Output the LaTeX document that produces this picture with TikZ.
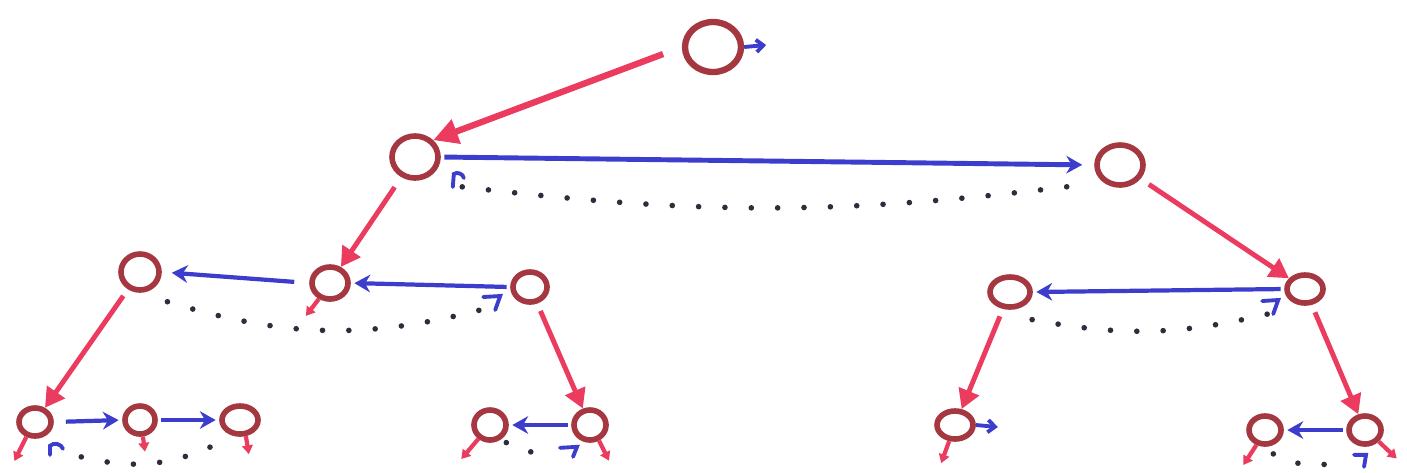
\documentclass[tikz,border=0pt]{standalone}
\usepackage{tikz}
\usetikzlibrary{shapes,arrows.meta,positioning,calc}
\usepackage{xcolor}
\definecolor{nodebrown}{RGB}{165,55,65}
\definecolor{ptrred}{RGB}{235,60,95}
\definecolor{ptrblue}{RGB}{60,60,205}
\definecolor{dotgray}{RGB}{45,45,60}

\begin{document}
\begin{tikzpicture}[
    node distance=1cm, on grid,
    heap/.style={ellipse, draw=nodebrown, line width=1.6pt, inner sep=0pt, minimum width=0.36cm, minimum height=0.32cm},
    rootheap/.style={heap, line width=1.8pt, minimum width=0.56cm, minimum height=0.5cm},
    topheap/.style={heap, minimum width=0.46cm, minimum height=0.42cm},
    leafheap/.style={heap, minimum width=0.32cm, minimum height=0.28cm},
    parentptr/.style={draw=ptrred, line width=1.4pt, -{Triangle[length=5.5pt,width=6pt]}, shorten <=2pt},
    siblingptr/.style={draw=ptrblue, line width=1.2pt, -{Stealth[length=4.5pt,width=5pt]}, shorten <=1pt, shorten >=1pt},
    backptr/.style={draw=dotgray, line width=1.6pt, line cap=round, dash pattern=on 0pt off 7.5pt},
    hookptr/.style={draw=ptrblue, line width=1.1pt, line cap=round},
    nilred/.style={draw=ptrred, line width=1.2pt, -{Triangle[length=2.5pt,width=3pt]}},
    nilblue/.style={draw=ptrblue, line width=1.1pt, -{Straight Barb[length=2pt,width=3.5pt]}}
]
    \useasboundingbox (0,0) rectangle (14.07,4.72);

    % Root
    \node[rootheap] (root) at (7.13,4.25) {};

    % Level 1
    \node[topheap, below left=1.1cm and 2.98cm of root] (lft) {};
    \node[topheap, minimum height=0.4cm, below right=1.18cm and 4.07cm of root] (rgt) {};

    % Level 2 - left
    \node[heap, below left=1.26cm and 0.85cm of lft] (lftb) {};
    \node[heap, minimum width=0.38cm, minimum height=0.36cm, left=1.9cm of lftb, yshift=0.11cm] (lfta) {};
    \node[heap, minimum width=0.34cm, minimum height=0.3cm, right=2cm of lftb, yshift=-0.04cm] (lftc) {};

    % Level 2 - right
    \node[heap, minimum height=0.28cm, below right=1.24cm and 1.85cm of rgt] (rgtb) {};
    \node[heap, minimum width=0.4cm, minimum height=0.3cm, left=2.95cm of rgtb, yshift=-0.03cm] (rgta) {};

    % Level 3
    \node[leafheap, below left=1.5cm and 1.05cm of lfta] (lftaa) {};
    \node[leafheap, minimum width=0.3cm, right=1.05cm of lftaa, yshift=0.02cm] (lftab) {};
    \node[leafheap, minimum width=0.36cm, right=1cm of lftab] (lftac) {};
    \node[leafheap, minimum height=0.3cm, below right=1.38cm and 0.6cm of lftc] (lftcb) {};
    \node[leafheap, minimum height=0.3cm, left=1cm of lftcb] (lftca) {};
    \node[leafheap, minimum width=0.36cm, below left=1.33cm and 0.55cm of rgta] (rgtaa) {};
    \node[leafheap, below right=1.41cm and 0.6cm of rgtb] (rgtbb) {};
    \node[leafheap, left=1cm of rgtbb] (rgtba) {};

    % Parent pointers
    \draw[parentptr, line width=1.8pt, -{Triangle[length=7pt,width=7pt]}, shorten <=0.2cm] (root.west) -- (lft.north east);
    \draw[parentptr, shorten <=0.12cm] (lft) -- (lftb);
    \draw[parentptr, shorten <=0.1cm] (rgt) -- (rgtb);
    \draw[parentptr, shorten <=0.08cm] (lfta) -- (lftaa);
    \draw[parentptr, shorten <=0.08cm] (lftc) -- (lftcb);
    \draw[parentptr, shorten <=0.08cm] (rgta) -- (rgtaa);
    \draw[parentptr, shorten <=0.08cm] (rgtb) -- (rgtbb);

    % Sibling pointers
    \draw[siblingptr, line width=1.4pt, shorten >=0.12cm] (lft.east) -- (rgt.west);
    \draw[siblingptr] (lftc.west) -- (lftb.east);
    \draw[siblingptr, shorten <=0.15cm, shorten >=0.1cm] (lftb.west) -- (lfta.east);
    \draw[siblingptr] (rgtb.west) -- (rgta.east);
    \draw[siblingptr, shorten <=0.12cm] (lftaa.east) -- (lftab.west);
    \draw[siblingptr] (lftab.east) -- (lftac.west);
    \draw[siblingptr] (lftcb.west) -- (lftca.east);
    \draw[siblingptr] (rgtbb.west) -- (rgtba.east);

    % Back pointers
    \draw[backptr] ([shift={(0.29,-0.13)}]lft.south east) to[bend right=7] ([shift={(-0.14,-0.03)}]rgt.south west);
    \draw[backptr] ([shift={(0.12,-0.15)}]lfta.south east) to[bend right=16] ([shift={(-0.23,-0.07)}]lftc.south west);
    \draw[backptr] ([shift={(0.06,-0.15)}]rgta.south east) to[bend right=12] ([shift={(-0.22,-0.13)}]rgtb.south west);
    \draw[backptr] ([shift={(0.33,-0.23)}]lftaa.south east) to[bend right=20] ([shift={(-0.02,-0.09)}]lftac.south west);
    \draw[backptr] ([shift={(0.03,-0.05)}]lftca.south east) to[bend right=25] ([shift={(-0.2,-0.11)}]lftcb.south west);
    \draw[backptr] ([shift={(-0.05,-0.12)}]rgtba.south east) to[bend right=20] ([shift={(-0.13,-0.2)}]rgtbb.south west);

    % Back pointer hooks
    \draw[hookptr] ([shift={(0.12,-0.30)}]lft.east) -- ++(0.01,0.13) to[bend left=60] ++(0.1,-0.04);
    \draw[hookptr] ([shift={(-0.27,-0.1)}]lftc.west) -- ++(0.17,0.01) -- ++(-0.05,-0.14);
    \draw[hookptr] ([shift={(-0.22,-0.12)}]rgtb.west) -- ++(0.16,0.01) -- ++(-0.05,-0.14);
    \draw[hookptr] ([shift={(0.15,-0.16)}]lftaa.south) -- ++(0,0.09) to[bend left=60] ++(0.13,-0.03);
    \draw[hookptr] ([shift={(-0.3,-0.05)}]lftcb.south) -- ++(0.17,0.01) -- ++(-0.04,-0.1);
    \draw[hookptr] ([shift={(-0.11,-0.08)}]rgtbb.south) -- ++(0.12,0) -- ++(-0.02,-0.12);

    % Nil pointers
    \draw[nilblue] (root.east) -- ++(0.22,0.02) coordinate (root-nil);
    \draw[nilblue] (rgtaa.east) -- ++(0.22,-0.02) coordinate (rgtaa-nil);
    \draw[nilred] (lftb.-125) -- ++(-0.13,-0.17) coordinate (lftb-nil);
    \draw[nilred] (lftaa.-120) -- ++(-0.12,-0.24) coordinate (lftaa-nil);
    \draw[nilred] (lftab.-80) -- ++(0.02,-0.15) coordinate (lftab-nil);
    \draw[nilred] (lftac.-70) -- ++(0.03,-0.18) coordinate (lftac-nil);
    \draw[nilred] (lftca.-130) -- ++(-0.17,-0.2) coordinate (lftca-nil);
    \draw[nilred] (lftcb.-60) -- ++(0.1,-0.2) coordinate (lftcb-nil);
    \draw[nilred] (rgtaa.-110) -- ++(-0.08,-0.22) coordinate (rgtaa-nil2);
    \draw[nilred] (rgtba.-120) -- ++(-0.13,-0.2) coordinate (rgtba-nil);
    \draw[nilred] (rgtbb.-40) -- ++(0.18,-0.17) coordinate (rgtbb-nil);
\end{tikzpicture}
\end{document}
